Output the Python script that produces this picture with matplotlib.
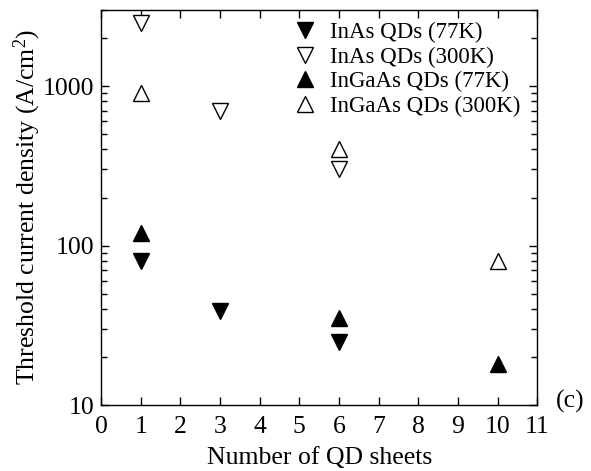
import matplotlib
matplotlib.use("Agg")
import matplotlib.pyplot as plt
from matplotlib.ticker import LogLocator, NullFormatter, FixedLocator

plt.rcParams['font.family'] = ['Liberation Serif', 'DejaVu Serif']
plt.rcParams['mathtext.fontset'] = 'custom'
plt.rcParams['mathtext.rm'] = 'Liberation Serif'
plt.rcParams['mathtext.it'] = 'Liberation Serif:italic'

# data
inas_77_x = [1, 3, 6]
inas_77_y = [80, 39, 25]
inas_300_x = [1, 3, 6]
inas_300_y = [2500, 700, 300]
ingaas_77_x = [1, 6, 10]
ingaas_77_y = [120, 35, 18]
ingaas_300_x = [1, 6, 10]
ingaas_300_y = [900, 400, 80]
labels = ['InAs QDs (77K)', 'InAs QDs (300K)', 'InGaAs QDs (77K)', 'InGaAs QDs (300K)']
x_ticks = list(range(0, 12))
y_ticks = [10, 100, 1000]

fig = plt.figure(figsize=(5.91, 4.71), dpi=100)
ax = fig.add_axes([0.171, 0.140, 0.738, 0.839])

ms = 12
ax.plot(inas_77_x, inas_77_y, 'v', ms=ms, color='black', label=labels[0], linestyle='none')
ax.plot(inas_300_x, inas_300_y, 'v', ms=ms, mfc='white', mec='black', mew=1, label=labels[1], linestyle='none')
ax.plot(ingaas_77_x, ingaas_77_y, '^', ms=ms, color='black', label=labels[2], linestyle='none')
ax.plot(ingaas_300_x, ingaas_300_y, '^', ms=ms, mfc='white', mec='black', mew=1, label=labels[3], linestyle='none')

ax.set_yscale('log')
ax.set_xlim(0, 11)
ax.set_ylim(10, 3000)
ax.xaxis.set_major_locator(FixedLocator(x_ticks))
ax.yaxis.set_major_locator(FixedLocator(y_ticks))
ax.set_yticklabels([str(v) for v in y_ticks])
ax.yaxis.set_minor_locator(LogLocator(base=10, subs=range(2, 10)))
ax.yaxis.set_minor_formatter(NullFormatter())

ax.tick_params(which='both', direction='in', top=True, right=True, labelsize=18.5)
ax.tick_params(axis='x', pad=8)
ax.tick_params(axis='y', pad=5)
ax.tick_params(which='major', length=6, width=1)
ax.tick_params(which='minor', length=4, width=1)
for s in ax.spines.values():
    s.set_linewidth(1)

ax.set_xlabel('Number of QD sheets', fontsize=18.5, labelpad=6)
ax.set_ylabel('Threshold current density (A/cm$^2$)', fontsize=18.5, labelpad=0)

ax.legend(loc='upper right', bbox_to_anchor=(0.993, 1.004), frameon=False, fontsize=16.5,
          handlelength=1.0, handletextpad=0.6, labelspacing=0.15, borderaxespad=0.2)

fig.text(0.94, 0.148, '(c)', fontsize=18.5, ha='left', va='center')

fig.savefig('out.png', dpi=100)
